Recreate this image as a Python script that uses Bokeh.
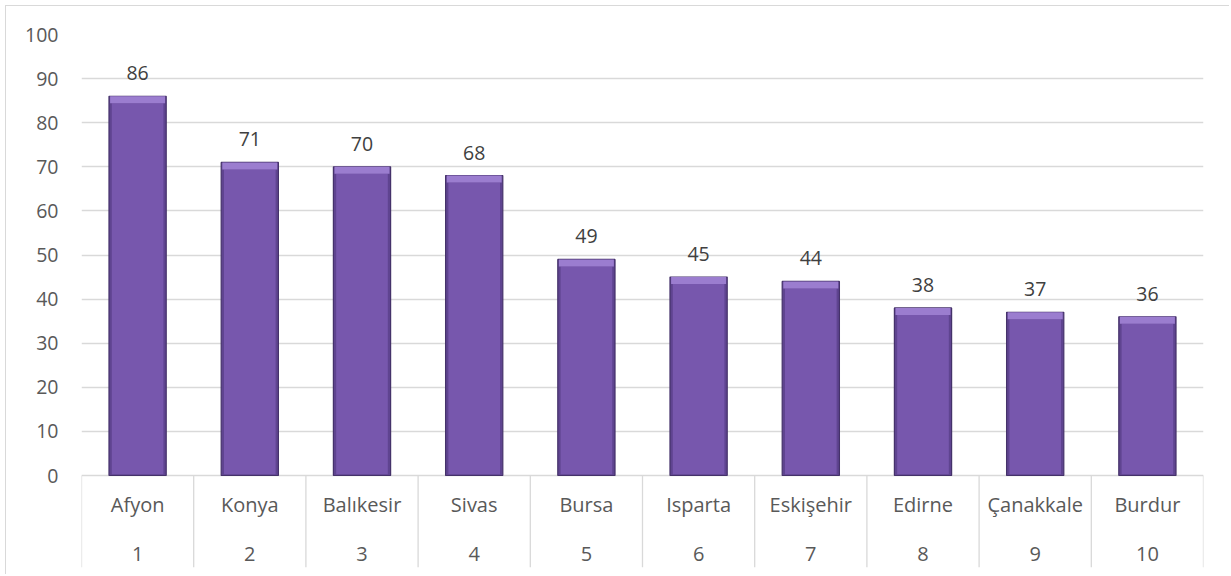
from bokeh.plotting import figure
from bokeh.models import ColumnDataSource, Range1d, FixedTicker, LabelSet
from bokeh.core.properties import value
from bokeh.embed import file_html
from bokeh.resources import INLINE

# ---- data ----
cities = ["Afyon", "Konya", "Balıkesir", "Sivas", "Bursa", "Isparta", "Eskişehir", "Edirne", "Çanakkale", "Burdur"]
ranks = ["1", "2", "3", "4", "5", "6", "7", "8", "9", "10"]
values = [86, 71, 70, 68, 49, 45, 44, 38, 37, 36]
y_ticks = [0, 10, 20, 30, 40, 50, 60, 70, 80, 90, 100]

FONT = "Open Sans"
W, H = 1224, 569
PX_PER_UNIT = 4.41          # frame: 100 units -> 441 px
CAT_PX = 92                 # height of category-label band below the zero line
ymin = -CAT_PX / PX_PER_UNIT
bev = 7 / PX_PER_UNIT

n = len(cities)
xs = [i + 0.5 for i in range(n)]
src = ColumnDataSource(dict(
    x=xs, top=values, cap=[v - bev for v in values],
    lbl=[str(v) for v in values], city=cities, rank=ranks, zero=[0] * n,
))
sep = ColumnDataSource(dict(x=list(range(n + 1)), y0=[0] * (n + 1), y1=[ymin] * (n + 1)))

p = figure(width=W, height=H, x_range=Range1d(0, n), y_range=Range1d(ymin, 100),
           output_backend="svg", toolbar_location=None, x_axis_location=None,
           min_border_left=75, min_border_right=27, min_border_top=28, min_border_bottom=8)
p.styles = {"margin-left": "5px", "margin-top": "5px",
            "border-left": "1px solid #d9d9d9", "border-top": "1px solid #d9d9d9"}
p.outline_line_color = None
p.background_fill_color = "white"
p.border_fill_color = "white"

# grid
p.xgrid.visible = False
p.ygrid.ticker = FixedTicker(ticks=y_ticks)
p.ygrid.grid_line_color = "#d9d9d9"
p.ygrid.grid_line_width = 1.3

# y axis
ax = p.yaxis[0]
ax.ticker = FixedTicker(ticks=y_ticks)
ax.axis_line_color = None
ax.major_tick_line_color = None
ax.minor_tick_line_color = None
ax.major_tick_out = 0
ax.major_tick_in = 0
ax.major_label_standoff = 23
ax.major_label_text_font = FONT
ax.major_label_text_font_size = "19.5px"
ax.major_label_text_color = "#595959"

# category separators
p.segment(x0="x", y0="y0", x1="x", y1="y1", source=sep, line_color="#d9d9d9", line_width=1.3)

# bars (bevelled look)
p.vbar(x="x", top="top", bottom=0, width=0.51, source=src,
       fill_color="#5f4490", line_color="#45326a", line_width=1.2)
p.vbar(x="x", top="cap", bottom=0.3, width=0.46, source=src,
       fill_color="#7757ad", line_color=None)
p.vbar(x="x", top="top", bottom="cap", width=0.49, source=src,
       fill_color="#9b7dcf", line_color=None)

# value labels
p.add_layout(LabelSet(x="x", y="top", text="lbl", source=src, y_offset=23,
                      text_align="center", text_baseline="middle",
                      text_font=value(FONT), text_font_size=value("19.5px"), text_color="#404040"))
# category labels
p.add_layout(LabelSet(x="x", y="zero", text="city", source=src, y_offset=-29,
                      text_align="center", text_baseline="middle",
                      text_font=value(FONT), text_font_size=value("20px"), text_color="#595959"))
p.add_layout(LabelSet(x="x", y="zero", text="rank", source=src, y_offset=-78,
                      text_align="center", text_baseline="middle",
                      text_font=value(FONT), text_font_size=value("20px"), text_color="#595959"))

open("out.html", "w").write(file_html(p, INLINE))
